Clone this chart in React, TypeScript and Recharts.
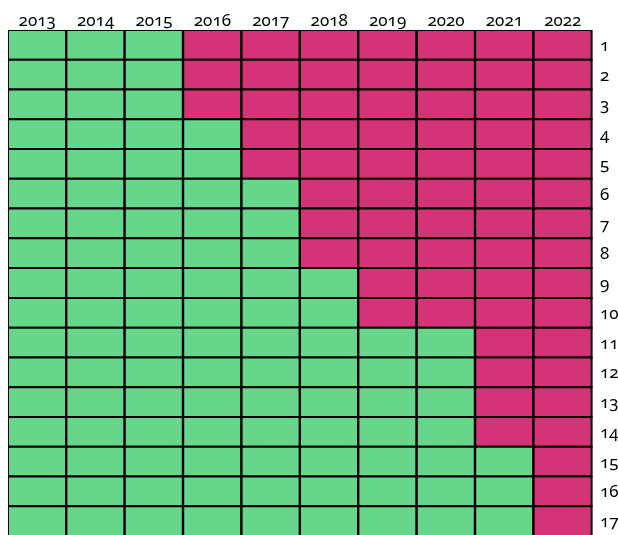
import { BarChart, Bar, XAxis, YAxis, Cell } from "recharts"

// Years across the top
const years = ["2013", "2014", "2015", "2016", "2017", "2018", "2019", "2020", "2021", "2022"]
// How many rows (from the top) are magenta in each year
const magentaRows = [0, 0, 0, 3, 5, 8, 10, 10, 14, 17]
// Row labels down the right side
const rowLabels = ["1", "2", "3", "4", "5", "6", "7", "8", "9", "10", "11", "12", "13", "14", "15", "16", "17"]

const GREEN = "#66d68a"
const MAGENTA = "#d43477"

const rowKeys = rowLabels.map((_, i) => `r${i + 1}`)

const chartData = years.map((year) => {
  const row: Record<string, string | number> = { year }
  rowKeys.forEach((k) => {
    row[k] = 1
  })
  return row
})

const tickStyle = { fontSize: 17, fill: "#000" }

export default function App() {
  // fixed so the cropped bottom row doesn't add scrollbars
  return (
    <div
      style={{
        position: "fixed",
        top: 8,
        left: 8,
        width: 610,
        height: 528,
        fontFamily: "'Noto Sans', 'Open Sans', sans-serif",
        fontVariantNumeric: "oldstyle-nums",
        fontFeatureSettings: '"onum"',
      }}
    >
      <BarChart
        width={610}
        height={528}
        data={chartData}
        barCategoryGap={0}
        barGap={0}
        margin={{ top: 0, right: 0, left: 0, bottom: 0 }}
      >
        <XAxis
          dataKey="year"
          orientation="top"
          height={22}
          axisLine={false}
          tickLine={false}
          tickSize={0}
          tickMargin={4}
          tick={tickStyle}
          interval={0}
        />
        <YAxis
          type="number"
          orientation="right"
          domain={[0, 17]}
          reversed
          width={26}
          ticks={rowLabels.map((_, i) => i + 0.5)}
          tickFormatter={(v: number) => rowLabels[Math.floor(v)]}
          axisLine={false}
          tickLine={false}
          tickSize={0}
          tickMargin={8}
          tick={{ ...tickStyle, textAnchor: "start" }}
          interval={0}
          allowDataOverflow
        />
        {rowKeys.map((k, ri) => (
          <Bar key={k} dataKey={k} stackId="grid" stroke="#000" strokeWidth={2} isAnimationActive={false}>
            {chartData.map((_, ci) => (
              <Cell key={ci} fill={ri < magentaRows[ci] ? MAGENTA : GREEN} />
            ))}
          </Bar>
        ))}
      </BarChart>
    </div>
  )
}
